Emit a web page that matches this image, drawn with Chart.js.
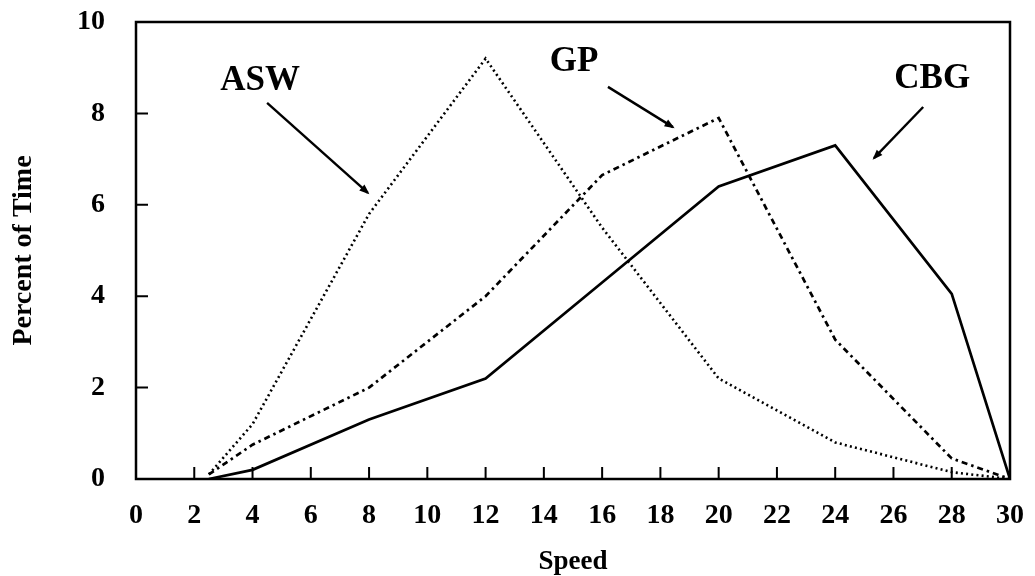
<!DOCTYPE html>
<html>
<head>
<meta charset="utf-8">
<script src="https://cdn.jsdelivr.net/npm/chart.js@4"></script>
<style>
html,body{margin:0;padding:0;background:#fff;}
#wrap{width:1035px;height:576px;}
</style>
</head>
<body>
<div id="wrap"><canvas id="c" width="1035" height="576"></canvas></div>
<script>
// ---- data ----
const speeds = [2.5, 4, 8, 12, 16, 20, 24, 28, 30];
const aswValues = [0.1, 1.2, 5.8, 9.2, 5.5, 2.2, 0.8, 0.15, 0];
const gpValues  = [0.1, 0.75, 2.0, 4.0, 6.65, 7.9, 3.05, 0.45, 0];
const cbgValues = [0, 0.2, 1.3, 2.2, 4.3, 6.4, 7.3, 4.05, 0];
const seriesNames = ['ASW', 'GP', 'CBG'];
const xTickValues = [0, 2, 4, 6, 8, 10, 12, 14, 16, 18, 20, 22, 24, 26, 28, 30];
const yTickValues = [0, 2, 4, 6, 8, 10];
const xTitle = 'Speed';
const yTitle = 'Percent of Time';
// annotation labels (data coordinates)
const labelX = [4.26, 15.04, 27.33];
const labelY = [8.76, 9.17, 8.81];
const arrowFromX = [4.5, 16.2, 27.02];
const arrowFromY = [8.23, 8.58, 8.14];
const arrowToX = [7.96, 18.43, 25.33];
const arrowToY = [6.26, 7.7, 7.02];

const serif = '"Liberation Serif", "Times New Roman", serif';
const toPts = vals => speeds.map((s, i) => ({x: s, y: vals[i]}));

const framePlugin = {
  id: 'framePlugin',
  beforeDatasetsDraw(chart) {
    const {ctx, chartArea: a, scales: {x, y}} = chart;
    ctx.save();
    ctx.strokeStyle = '#000';
    ctx.lineWidth = 2.5;
    ctx.strokeRect(a.left, a.top, a.right - a.left, a.bottom - a.top);
    ctx.lineWidth = 2;
    ctx.beginPath();
    x.ticks.forEach(t => {
      if (t.value <= x.min || t.value >= x.max) return;
      const px = x.getPixelForValue(t.value);
      ctx.moveTo(px, a.bottom);
      ctx.lineTo(px, a.bottom - 12);
    });
    y.ticks.forEach(t => {
      if (t.value <= y.min || t.value >= y.max) return;
      const py = y.getPixelForValue(t.value);
      ctx.moveTo(a.left, py);
      ctx.lineTo(a.left + 12, py);
    });
    ctx.stroke();
    ctx.restore();
  },
  afterDraw(chart) {
    const {ctx, scales: {x, y}} = chart;
    ctx.save();
    ctx.fillStyle = '#000';
    ctx.strokeStyle = '#000';
    ctx.font = 'bold 35px ' + serif;
    ctx.textAlign = 'center';
    ctx.textBaseline = 'alphabetic';
    seriesNames.forEach((name, i) => {
      const px = x.getPixelForValue(labelX[i]);
      const py = y.getPixelForValue(labelY[i]);
      ctx.fillText(name, px, py + 35 * 0.33);
      const x0 = x.getPixelForValue(arrowFromX[i]), y0 = y.getPixelForValue(arrowFromY[i]);
      const x1 = x.getPixelForValue(arrowToX[i]), y1 = y.getPixelForValue(arrowToY[i]);
      ctx.lineWidth = 2.4;
      ctx.beginPath();
      ctx.moveTo(x0, y0);
      ctx.lineTo(x1, y1);
      ctx.stroke();
      const ang = Math.atan2(y1 - y0, x1 - x0);
      const L = 9, W = 0.45;
      ctx.beginPath();
      ctx.moveTo(x1 + 2 * Math.cos(ang), y1 + 2 * Math.sin(ang));
      ctx.lineTo(x1 - L * Math.cos(ang - W), y1 - L * Math.sin(ang - W));
      ctx.lineTo(x1 - L * Math.cos(ang + W), y1 - L * Math.sin(ang + W));
      ctx.closePath();
      ctx.fill();
    });
    ctx.restore();
  }
};

new Chart(document.getElementById('c'), {
  type: 'line',
  data: {
    datasets: [
      {label: seriesNames[0], data: toPts(aswValues), borderColor: '#000', borderWidth: 2.6, borderDash: [2, 3.2], pointRadius: 0, tension: 0, fill: false},
      {label: seriesNames[1], data: toPts(gpValues), borderColor: '#000', borderWidth: 2.7, borderDash: [6, 4, 2.5, 4], pointRadius: 0, tension: 0, fill: false},
      {label: seriesNames[2], data: toPts(cbgValues), borderColor: '#000', borderWidth: 2.7, pointRadius: 0, tension: 0, fill: false}
    ]
  },
  options: {
    responsive: false,
    animation: false,
    layout: {padding: {top: 22, right: 25, left: 0, bottom: 0}},
    plugins: {legend: {display: false}, tooltip: {enabled: false}},
    scales: {
      x: {
        type: 'linear', min: 0, max: 30,
        afterBuildTicks: s => { s.ticks = xTickValues.map(v => ({value: v})); },
        afterFit: s => { s.height = 97; s.paddingLeft = 0; s.paddingRight = 0; s.paddingTop = 0; s.paddingBottom = 0; },
        grid: {display: false},
        border: {display: false},
        ticks: {color: '#000', padding: 12, font: {family: serif, weight: 'bold', size: 28}},
        title: {display: true, text: xTitle, color: '#000', padding: {top: 0, bottom: 0}, font: {family: serif, weight: 'bold', size: 27, lineHeight: 1}}
      },
      y: {
        min: 0, max: 10,
        afterBuildTicks: s => { s.ticks = yTickValues.map(v => ({value: v})); },
        afterFit: s => { s.width = 136; s.paddingLeft = 0; s.paddingRight = 0; s.paddingTop = 0; s.paddingBottom = 0; },
        grid: {display: false},
        border: {display: false},
        ticks: {color: '#000', padding: 23, font: {family: serif, weight: 'bold', size: 28}},
        title: {display: true, text: yTitle, color: '#000', padding: {top: 10, bottom: 0}, font: {family: serif, weight: 'bold', size: 28, lineHeight: 1}}
      }
    }
  },
  plugins: [framePlugin]
});
</script>
</body>
</html>
